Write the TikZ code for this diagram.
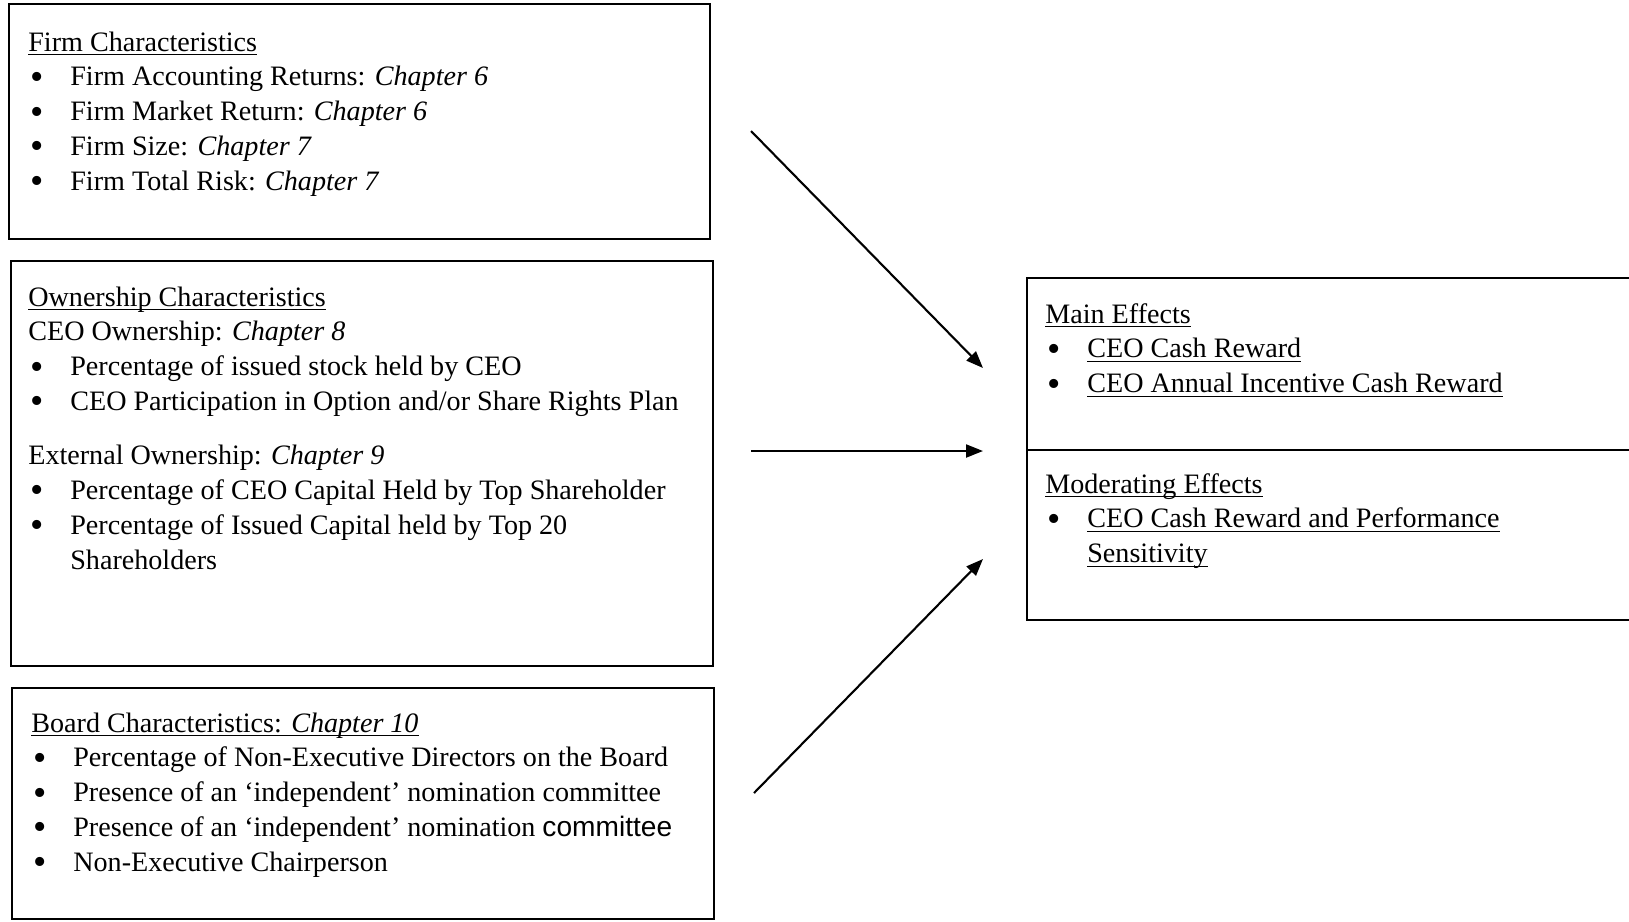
\documentclass[tikz,border=0pt]{standalone}
\usepackage{fontspec}
\setmainfont{Liberation Serif}
\newfontfamily\arialfont{Liberation Sans}
\usetikzlibrary{arrows.meta,positioning,fit}

\newcommand{\itm}{\makebox[0.84cm][l]{\hspace*{0.05cm}\raisebox{-0.11em}{\scalebox{1.35}{\textbullet}}}}
\newcommand{\uln}[1]{\leavevmode\setbox0\hbox{#1}\rlap{\rule[-2.4pt]{\wd0}{0.7pt}}\box0}
\newcommand{\boxtext}[1]{\parbox[t]{13.5cm}{\fontsize{16}{19.9}\selectfont\raggedright #1}}

\begin{document}
\begin{tikzpicture}[
  x=0.02cm, y=-0.02cm,
  box/.style={draw, line width=1.3pt, inner sep=0pt},
  txt/.style={inner sep=0pt, anchor=base west},
  arr/.style={-{Triangle[length=0.34cm,width=0.26cm]}, line width=1.2pt}
]
\useasboundingbox (0,0) rectangle (1629,921);

% left boxes
\node[box, fit={(9,4) (710,239)}] (firm) {};
\node[box, fit={(11,261) (713,666)}] (own) {};
\node[box, fit={(12,688) (714,919)}] (board) {};
% right box
\node[box, fit={(1027,278) (1645,450)}] (main) {};
\node[box, fit={(1027,450) (1645,620)}] (mod) {};

\node[txt] (firmtxt) at (28,51) {\boxtext{\uln{Firm Characteristics}\\
  \itm Firm Accounting Returns: \textit{Chapter 6}\\
  \itm Firm Market Return: \textit{Chapter 6}\\
  \itm Firm Size: \textit{Chapter 7}\\
  \itm Firm Total Risk: \textit{Chapter 7}}};

\node[txt] (owntxt) at (28,306) {\boxtext{\uln{Ownership Characteristics}\\
  CEO Ownership: \textit{Chapter 8}\\
  \itm Percentage of issued stock held by CEO\\
  \itm CEO Participation in Option and/or Share Rights Plan\\[0.37cm]
  External Ownership: \textit{Chapter 9}\\
  \itm Percentage of CEO Capital Held by Top Shareholder\\
  \itm Percentage of Issued Capital held by Top 20\\
  \hspace*{0.84cm}Shareholders}};

\node[txt] (boardtxt) at (31,732) {\boxtext{\uln{Board Characteristics: \textit{Chapter 10}}\\
  \itm Percentage of Non-Executive Directors on the Board\\
  \itm Presence of an `independent' nomination committee\\
  \itm Presence of an `independent' nomination {\arialfont committee}\\
  \itm Non-Executive Chairperson}};

\node[txt] (maintxt) at (1045,323) {\boxtext{\uln{Main Effects}\\
  \itm \uln{CEO Cash Reward}\\
  \itm \uln{CEO Annual Incentive Cash Reward}}};

\node[txt] (modtxt) at (1045,493) {\boxtext{\uln{Moderating Effects}\\
  \itm \uln{CEO Cash Reward and Performance}\\
  \hspace*{0.84cm}\uln{Sensitivity}}};

% arrows
\coordinate (f1) at (751,131);
\coordinate (f2) at (983,368);
\coordinate (o1) at (751,451);
\coordinate (o2) at (983,451);
\coordinate (b1) at (754,793);
\coordinate (b2) at (983,559);
\draw[arr] (f1) -- (f2);
\draw[arr] (o1) -- (o2);
\draw[arr] (b1) -- (b2);
\end{tikzpicture}
\end{document}
